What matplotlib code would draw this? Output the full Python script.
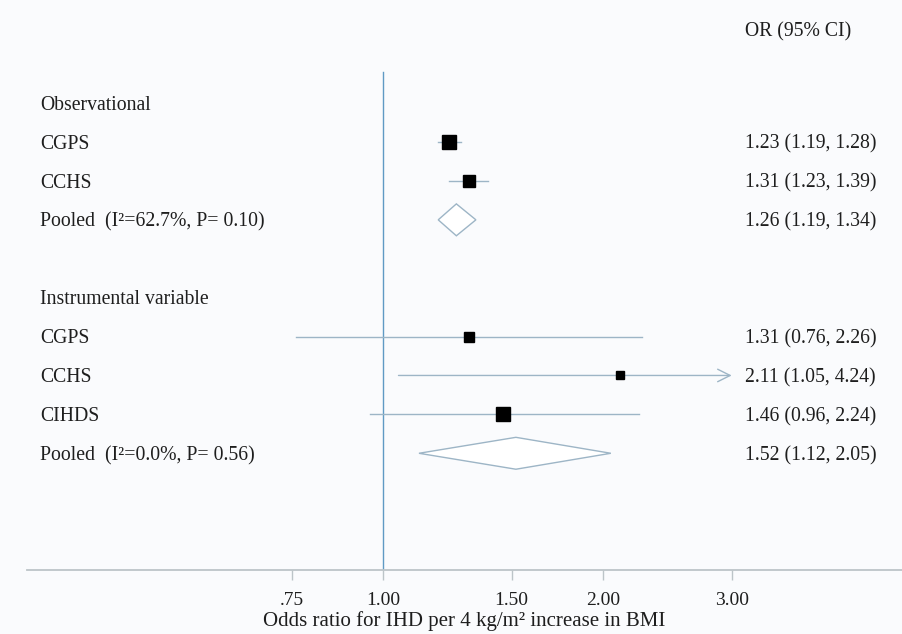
import numpy as np
import matplotlib
matplotlib.use("Agg")
import matplotlib.pyplot as plt
import matplotlib.transforms as mtransforms
from matplotlib.patches import Polygon

plt.rcParams['font.family'] = ['Liberation Serif', 'DejaVu Serif']

# data
obs_labels = ["CGPS", "CCHS"]
obs_or = [1.23, 1.31]
obs_lo = [1.19, 1.23]
obs_hi = [1.28, 1.39]
obs_weight = [58, 42]
obs_pooled = (1.26, 1.19, 1.34)
obs_pooled_label = "Pooled  (I²=62.7%, P= 0.10)"

iv_labels = ["CGPS", "CCHS", "CIHDS"]
iv_or = [1.31, 2.11, 1.46]
iv_lo = [0.76, 1.05, 0.96]
iv_hi = [2.26, 4.24, 2.24]
iv_weight = [35, 22, 53]
iv_pooled = (1.52, 1.12, 2.05)
iv_pooled_label = "Pooled  (I²=0.0%, P= 0.56)"

xticks = [0.75, 1.0, 1.5, 2.0, 3.0]
xticklabels = [".75", "1.00", "1.50", "2.00", "3.00"]
x_cap = 3.0

bg = '#fafbfd'
txt = '#1e1e1e'
ci_col = '#9db5c6'
ref_col = '#5f9ac4'
axis_col = '#bcc4c8'

fig = plt.figure(figsize=(9.02, 6.34), dpi=100, facecolor=bg)
W, H = 902, 634
ax = fig.add_axes([27 / W, 64 / H, 1 - 27 / W, 1 - 64 / H])
ax.set_facecolor(bg)
ax.set_xscale('log')
ax.set_xlim(np.exp((27 - 383) / 317.4), np.exp((902 - 383) / 317.4))
ax.set_ylim(12.0, -2.65)

for s in ['top', 'right', 'left']:
    ax.spines[s].set_visible(False)
ax.spines['bottom'].set_color(axis_col)
ax.spines['bottom'].set_linewidth(1.3)
ax.set_yticks([])
ax.set_xticks(xticks)
ax.set_xticklabels(xticklabels)
ax.minorticks_off()
ax.tick_params(axis='x', length=7, width=1.0, color=axis_col, labelsize=14,
               labelcolor=txt, pad=9)
ax.set_xlabel("Odds ratio for IHD per 4 kg/m² increase in BMI", fontsize=15,
              color=txt, labelpad=1)

# reference line
ax.plot([1, 1], [-0.8, 12.0], color=ref_col, lw=1.0, zorder=1)

lab_tr = mtransforms.blended_transform_factory(fig.transFigure, ax.transData)
fs = 14.2
LX = 40 / W
RX = 745 / W


def put(x, y, s):
    ax.text(x, y + 0.06, s, transform=lab_tr, fontsize=fs, color=txt, va='center')


def study(y, label, est, lo, hi, w):
    if hi > x_cap:
        ax.annotate("", xy=(x_cap, y), xytext=(lo, y),
                    arrowprops=dict(arrowstyle='->,head_length=0.9,head_width=0.45',
                                    color=ci_col, lw=1.0, shrinkA=0, shrinkB=0))
    else:
        ax.plot([lo, hi], [y, y], color=ci_col, lw=1.0, zorder=2)
    ax.plot(est, y, marker='s', color='black', ms=np.sqrt(w) * 1.3, zorder=3)
    put(LX, y, label)
    put(RX, y, f"{est:.2f} ({lo:.2f}, {hi:.2f})")


def pooled(y, label, vals):
    est, lo, hi = vals
    d = Polygon([[lo, y], [est, y - 0.41], [hi, y], [est, y + 0.41]], closed=True,
                facecolor='white', edgecolor=ci_col, lw=1.0, zorder=3)
    ax.add_patch(d)
    put(LX, y, label)
    put(RX, y, f"{est:.2f} ({lo:.2f}, {hi:.2f})")


put(RX, -1.88, "OR (95% CI)")

put(LX, 0, "Observational")
y = 1
for i in range(len(obs_labels)):
    study(y, obs_labels[i], obs_or[i], obs_lo[i], obs_hi[i], obs_weight[i])
    y += 1
pooled(y, obs_pooled_label, obs_pooled)

y += 2
put(LX, y, "Instrumental variable")
y += 1
for i in range(len(iv_labels)):
    study(y, iv_labels[i], iv_or[i], iv_lo[i], iv_hi[i], iv_weight[i])
    y += 1
pooled(y, iv_pooled_label, iv_pooled)

fig.savefig("out.png", dpi=100, facecolor=bg)
